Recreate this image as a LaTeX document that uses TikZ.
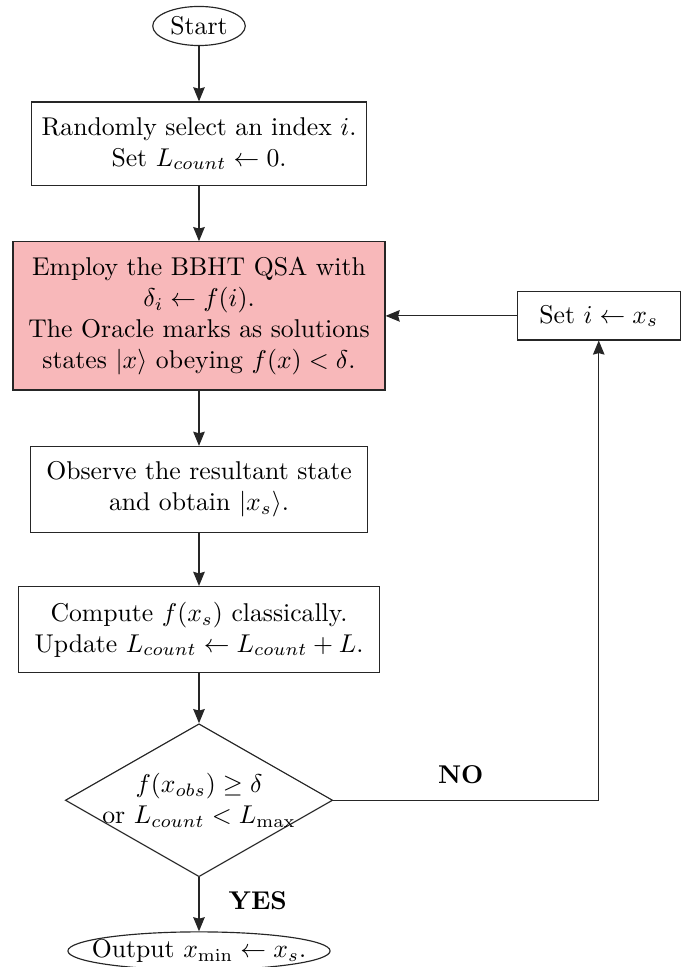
\documentclass[tikz,border=0pt]{standalone}
\usepackage{amsmath}
\usepackage{amssymb}
\usetikzlibrary{arrows.meta, positioning, shapes.geometric}
\definecolor{qsapink}{RGB}{248,184,186}

\begin{document}
\begin{tikzpicture}[x=0.389pt, y=-0.389pt, line width=0.45pt, draw=black!85,
        terminal/.style={ellipse, draw, inner sep=-6pt},
        process/.style={rectangle, draw, align=center, inner xsep=4pt, inner ysep=6pt},
        decision/.style={diamond, draw, align=center, aspect=1.75, inner sep=-4pt},
        flow/.style={-{Stealth[length=5.5pt, width=4.5pt, inset=0.6pt]}}]
    \useasboundingbox (0,0) rectangle (694,967);
    \node[terminal, minimum width=36pt, minimum height=15.2pt](start) at (199,26){Start};
    \node[process, below=21.5pt of start, minimum width=130pt](select){Randomly select an index $i$.\\ Set $L_{count} \leftarrow 0$.};
    \node[process, fill=qsapink, below=21.5pt of select, minimum width=144.7pt](bbht){Employ the BBHT QSA with\\ $\delta_i \leftarrow f(i)$.\\ The Oracle marks as solutions\\ states $|x\rangle$ obeying $f(x) < \delta$.};
    \node[process, right=51pt of bbht, minimum width=63.4pt, minimum height=18.7pt, inner ysep=3pt](update){Set $i \leftarrow x_s$};
    \node[process, below=21.5pt of bbht, minimum width=131pt](observe){Observe the resultant state\\ and obtain $|x_s\rangle$.};
    \node[process, below=20.5pt of observe, minimum width=140.4pt](compute){Compute $f(x_s)$ classically.\\ Update $L_{count} \leftarrow L_{count} + L$.};
    \node[decision, below=19.5pt of compute, minimum width=104pt, minimum height=59.5pt](check){$f(x_{obs}) \geq \delta$\\ or $L_{count} < L_{\max}$};
    \node[terminal, below=21pt of check, minimum width=102pt, minimum height=14.8pt](output){Output $x_{\min} \leftarrow x_s$.};
    \draw[flow] (start) -- (select);
    \draw[flow] (select) -- (bbht);
    \draw[flow] (bbht) -- (observe);
    \draw[flow] (observe) -- (compute);
    \draw[flow] (compute) -- (check);
    \draw[flow] (check) -- node[right=8pt, yshift=1.5pt]{\textbf{YES}} (output);
    \draw[flow] (check.east) -| node[pos=0.24, above=3pt]{\textbf{NO}} (update.south);
    \draw[flow] (update) -- (bbht);
\end{tikzpicture}
\end{document}
